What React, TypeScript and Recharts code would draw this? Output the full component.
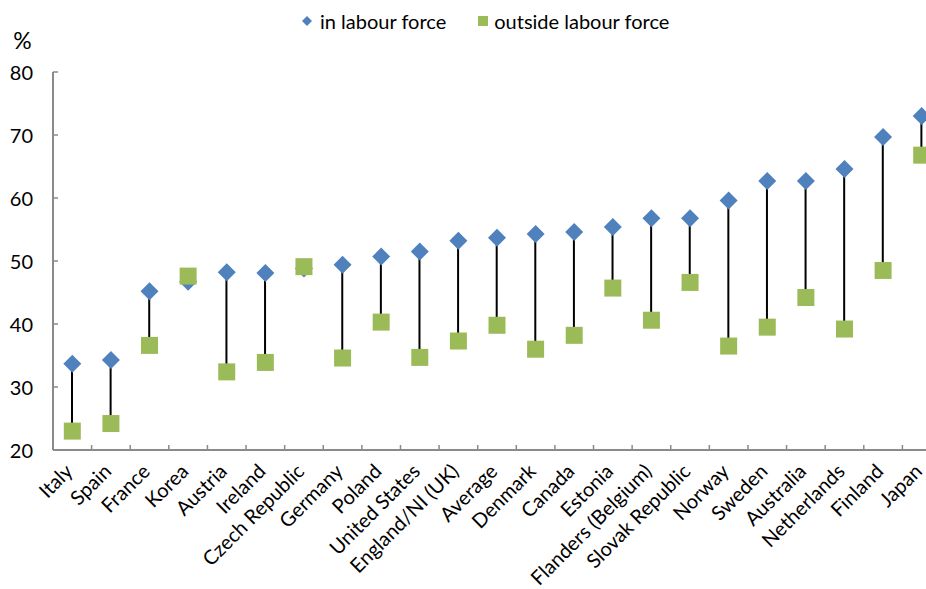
import React from 'react';
import { ComposedChart, Bar, Line, XAxis, YAxis, Legend, Label } from 'recharts';

const countries = [
  'Italy', 'Spain', 'France', 'Korea', 'Austria', 'Ireland', 'Czech Republic',
  'Germany', 'Poland', 'United States', 'England/NI (UK)', 'Average', 'Denmark',
  'Canada', 'Estonia', 'Flanders (Belgium)', 'Slovak Republic', 'Norway',
  'Sweden', 'Australia', 'Netherlands', 'Finland', 'Japan',
];
const inLabourForce = [
  33.7, 34.3, 45.2, 46.7, 48.2, 48.1, 48.8, 49.4, 50.7, 51.5, 53.2, 53.7, 54.3,
  54.6, 55.4, 56.8, 56.8, 59.6, 62.7, 62.7, 64.6, 69.7, 73.0,
];
const outsideLabourForce = [
  23.0, 24.2, 36.6, 47.6, 32.4, 33.9, 49.1, 34.6, 40.3, 34.7, 37.3, 39.8, 36.0,
  38.2, 45.7, 40.6, 46.6, 36.5, 39.5, 44.2, 39.2, 48.5, 66.8,
];
const yTicks = [20, 30, 40, 50, 60, 70, 80];

const data = countries.map((country, i) => ({
  country,
  inLF: inLabourForce[i],
  outLF: outsideLabourForce[i],
  range: [
    Math.min(inLabourForce[i], outsideLabourForce[i]),
    Math.max(inLabourForce[i], outsideLabourForce[i]),
  ],
}));

const FONT = 'Lato, "Open Sans", sans-serif';
const W = 960;
const H = 589;
const MARGIN = { top: 72, right: 19, bottom: 0, left: 0 };
const Y_AXIS_W = 53;
const X_AXIS_H = 139;
const PLOT_W = W - MARGIN.left - MARGIN.right - Y_AXIS_W;
const BAND = PLOT_W / countries.length;
const AXIS_COLOR = '#8a8a8a';
const BLUE = '#4F81BD';
const GREEN = '#9BBB59';
const X_TICK_MARGIN = 17;
const Y_TICK_MARGIN = 20;

const XTick = (props: any) => {
  const { x, y, payload } = props;
  const axisY = y - X_TICK_MARGIN;
  const bx = x - BAND / 2;
  const tx = x - 4;
  return (
    <g>
      <line x1={bx} y1={axisY} x2={bx} y2={axisY - 5} stroke={AXIS_COLOR} strokeWidth={1.5} />
      <text
        x={tx}
        y={y}
        transform={`rotate(-45 ${tx} ${y})`}
        textAnchor="end"
        dominantBaseline="central"
        fontSize={20}
        fontFamily={FONT}
        fill="#000"
      >
        {payload.value}
      </text>
    </g>
  );
};

const YTick = (props: any) => {
  const { x, y, payload } = props;
  const axisX = x + Y_TICK_MARGIN;
  return (
    <g>
      <line x1={axisX} y1={y} x2={axisX + 5} y2={y} stroke={AXIS_COLOR} strokeWidth={1.5} />
      <text
        x={x}
        y={y}
        textAnchor="end"
        dominantBaseline="central"
        fontSize={20}
        fontFamily={FONT}
        fill="#000"
      >
        {payload.value}
      </text>
    </g>
  );
};

const Diamond = (props: any) => {
  const { cx, cy, index } = props;
  if (cx == null || cy == null) return <g key={`d-${index}`} />;
  const r = 9;
  return (
    <path
      key={`d-${index}`}
      d={`M${cx},${cy - r} L${cx + r},${cy} L${cx},${cy + r} L${cx - r},${cy} Z`}
      fill={BLUE}
    />
  );
};

const Square = (props: any) => {
  const { cx, cy, index } = props;
  if (cx == null || cy == null) return <g key={`s-${index}`} />;
  const s = 17;
  return <rect key={`s-${index}`} x={cx - s / 2} y={cy - s / 2} width={s} height={s} fill={GREEN} />;
};

const LegendContent = () => (
  <div
    style={{
      display: 'flex',
      alignItems: 'center',
      fontFamily: FONT,
      fontSize: 20,
      color: '#000',
      whiteSpace: 'nowrap',
      height: 0,
      overflow: 'visible',
    }}
  >
    <svg width={12} height={12} style={{ marginRight: 7 }}>
      <path d="M6,1 L11,6 L6,11 L1,6 Z" fill={BLUE} />
    </svg>
    <span>in labour force</span>
    <svg width={10} height={10} style={{ marginLeft: 32, marginRight: 6 }}>
      <rect x={0} y={0} width={10} height={10} fill={GREEN} />
    </svg>
    <span>outside labour force</span>
  </div>
);

export default function App() {
  return (
    <div
      style={{
        position: 'absolute',
        left: 0,
        top: 0,
        width: 926,
        height: 589,
        overflow: 'hidden',
        background: '#fff',
      }}
    >
      <ComposedChart width={W} height={H} data={data} margin={MARGIN}>
        <Legend
          verticalAlign="top"
          content={<LegendContent />}
          wrapperStyle={{ top: 21, left: 301, width: 440, height: 0 }}
        />
        <XAxis
          dataKey="country"
          interval={0}
          height={X_AXIS_H}
          tickSize={0}
          tickMargin={X_TICK_MARGIN}
          tickLine={false}
          axisLine={{ stroke: AXIS_COLOR, strokeWidth: 2 }}
          tick={<XTick />}
        />
        <YAxis
          width={Y_AXIS_W}
          domain={[20, 80]}
          ticks={yTicks}
          interval={0}
          allowDataOverflow
          tickSize={0}
          tickMargin={Y_TICK_MARGIN}
          tickLine={false}
          axisLine={{ stroke: AXIS_COLOR, strokeWidth: 2 }}
          tick={<YTick />}
        >
          <Label
            value="%"
            position="top"
            offset={23}
            dx={-4}
            fontSize={23}
            fontFamily={FONT}
            fill="#000"
          />
        </YAxis>
        <Bar dataKey="range" barSize={2} fill="#000" isAnimationActive={false} legendType="none" />
        <Line
          dataKey="inLF"
          stroke="none"
          dot={Diamond}
          activeDot={false}
          isAnimationActive={false}
          legendType="none"
        />
        <Line
          dataKey="outLF"
          stroke="none"
          dot={Square}
          activeDot={false}
          isAnimationActive={false}
          legendType="none"
        />
      </ComposedChart>
    </div>
  );
}
